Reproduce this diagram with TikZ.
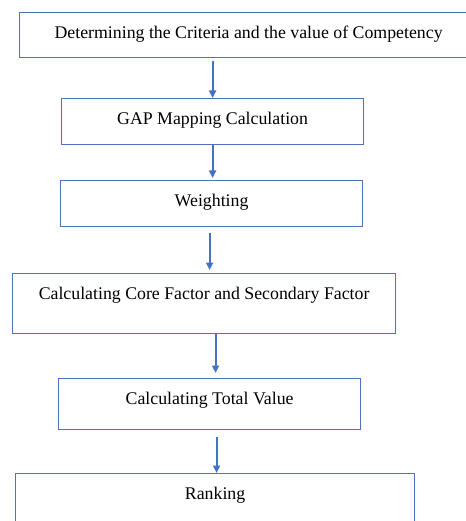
\documentclass[tikz,border=0pt]{standalone}
\usepackage{fontspec}
\setmainfont{Liberation Serif}
\usetikzlibrary{arrows.meta,positioning,calc}
\definecolor{boxline}{RGB}{79,113,190}
\definecolor{arrowblue}{RGB}{68,114,196}

\begin{document}
\begin{tikzpicture}[x=1pt, y=-1pt,
  sbox/.style={draw=boxline, line width=1.2pt, anchor=north west, inner sep=0pt,
               text height=12pt, text depth=6pt, font=\fontsize{17.8}{21}\selectfont},
  arrow/.style={-{Triangle[length=7.5pt,width=7pt]}, draw=arrowblue, line width=2.2pt}
]
\useasboundingbox (0,0) rectangle (465,521);

\node[sbox, minimum width=458pt, minimum height=45pt] (crit) at (19,12)
  {Determining the Criteria and the value of Competency};
\node[sbox, minimum width=302pt, minimum height=46pt] (gap) at (61,98)
  {GAP Mapping Calculation};
\node[sbox, minimum width=302pt, minimum height=46pt] (weight) at (60,180)
  {Weighting};
\node[sbox, minimum width=383pt, minimum height=60pt, text depth=20pt] (factor) at (12,273)
  {Calculating Core Factor and Secondary Factor};
\node[sbox, minimum width=302pt, minimum height=51pt, text depth=12pt] (total) at (58,378)
  {Calculating Total Value};
\node[sbox, minimum width=399pt, minimum height=60pt, text depth=21pt] (rank) at (15,473)
  {Ranking};

\draw[arrow] ([yshift=-3pt]crit.south -| gap.north) -- (gap.north);
\draw[arrow] (gap.south) -- ([yshift=2pt]gap.south |- weight.north);
\draw[arrow] ([xshift=-2pt,yshift=-6pt]weight.south) -- ([xshift=5.5pt,yshift=3pt]factor.north);
\draw[arrow] ([xshift=11.5pt]factor.south) -- ([xshift=6pt,yshift=5pt]total.north);
\draw[arrow] ([xshift=7pt,yshift=-7pt]total.south) -- ([xshift=1.5pt]rank.north);
\end{tikzpicture}
\end{document}
